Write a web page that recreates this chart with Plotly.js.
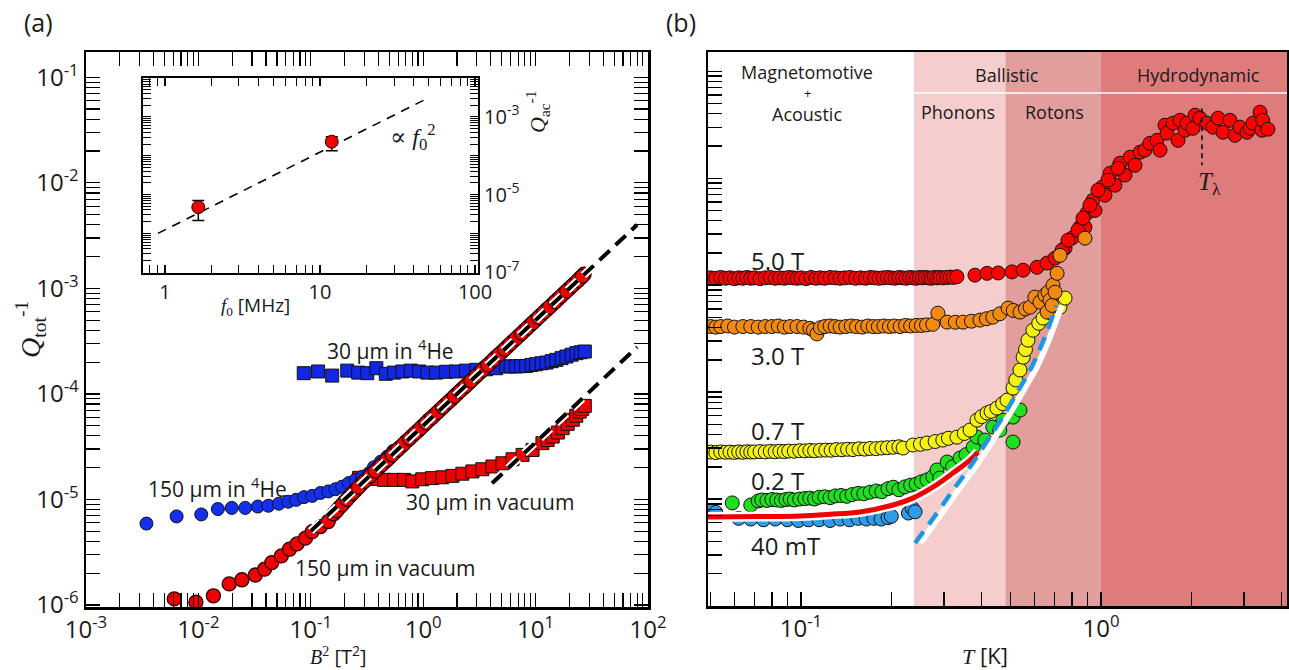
<!DOCTYPE html>
<html><head><meta charset="utf-8">
<script src="https://cdn.plot.ly/plotly-3.0.1.min.js"></script>
<style>html,body{margin:0;padding:0;background:#fff}#chart{width:1289px;height:670px}</style>
</head><body><div id="chart"></div>
<script>
// ===== Panel (a): Q_tot^-1 vs B^2 =====
const he150_B2 = [3.45e-3,6.4e-3,1.06e-2,1.49e-2,1.98e-2,2.61e-2,3.38e-2,4.2e-2,5.2e-2,6.3e-2,7.4e-2,8.7e-2,0.103,0.122,0.143,0.166,0.19,0.218,0.25,0.287,0.33,0.365,0.42,0.48,0.54];
const he150_Q  = [5.9e-6,6.9e-6,7.2e-6,8.1e-6,8.3e-6,8.3e-6,8.55e-6,8.7e-6,9.1e-6,9.5e-6,9.9e-6,1.05e-5,1.08e-5,1.15e-5,1.19e-5,1.25e-5,1.32e-5,1.43e-5,1.53e-5,1.64e-5,1.77e-5,2.02e-5,2.28e-5,2.55e-5,2.88e-5];
const vac150_B2 = [6.1e-3,9.5e-3,1.36e-2,1.88e-2,2.44e-2,3.21e-2,3.88e-2,4.5e-2,5.47e-2,6.46e-2,7.55e-2,8.97e-2,0.103,0.122,0.143,0.16,0.18,0.2,0.22,0.25,0.28,0.32,0.35,0.4,0.45,0.5,0.56,0.63,0.71,0.8,0.9,1.0,1.12,1.26,1.41,1.58,1.78,2.0,2.24,2.51,2.82,3.16,3.55,3.98,4.47,5.01,5.62,6.31,7.08,7.94,8.91,10.0,11.2,12.6,14.1,15.8,17.8,20.0,22.4,25.1,27.0,
  0.17,0.19,0.21,0.235,0.265,0.30,0.335,0.375,0.425,0.475,0.53,0.595,0.67,0.755,0.85,0.95,1.06,1.19,1.33,1.5,1.68,1.89,2.12,2.37,2.66,2.99,3.35,3.76,4.22,4.74,5.31,5.96,6.69,7.5,8.42,9.44,10.6,11.9,13.3,15.0,16.8,18.9,21.2,23.7,26.0];
const vac150_Q  = [1.14e-6,1.06e-6,1.22e-6,1.58e-6,1.73e-6,1.92e-6,2.18e-6,2.52e-6,2.91e-6,3.37e-6,3.78e-6,4.29e-6,4.95e-6,5.52e-6,6.17e-6,7.3e-6,8.4e-6,9.5e-6,1.06e-5,1.22e-5,1.38e-5,1.58e-5,1.74e-5,1.98e-5,2.24e-5,2.49e-5,2.8e-5,3.14e-5,3.56e-5,4.0e-5,4.48e-5,5.0e-5,5.62e-5,6.28e-5,7.06e-5,7.9e-5,8.88e-5,1.0e-4,1.12e-4,1.25e-4,1.41e-4,1.58e-4,1.78e-4,1.99e-4,2.24e-4,2.5e-4,2.81e-4,3.16e-4,3.54e-4,3.97e-4,4.46e-4,5.0e-4,5.6e-4,6.3e-4,7.06e-4,7.9e-4,8.9e-4,1.0e-3,1.12e-3,1.26e-3,1.36e-3,
  7.8e-6,8.9e-6,1.0e-5,1.14e-5,1.3e-5,1.48e-5,1.66e-5,1.86e-5,2.11e-5,2.36e-5,2.64e-5,2.97e-5,3.34e-5,3.77e-5,4.24e-5,4.74e-5,5.3e-5,5.94e-5,6.64e-5,7.49e-5,8.4e-5,9.44e-5,1.06e-4,1.18e-4,1.33e-4,1.49e-4,1.67e-4,1.88e-4,2.11e-4,2.37e-4,2.65e-4,2.98e-4,3.34e-4,3.75e-4,4.2e-4,4.72e-4,5.3e-4,5.95e-4,6.65e-4,7.5e-4,8.4e-4,9.45e-4,1.06e-3,1.18e-3,1.3e-3];
const he30_B2 = [0.0866,0.116,0.155,0.211,0.264,0.318,0.383,0.465,0.551,0.653,0.776,0.92,1.09,1.30,1.60,1.96,2.40,2.96,3.63,4.46,5.47,6.0,6.73,7.4,8.26,9.2,10.1,11.3,12.5,13.9,15.3,17.0,18.8,20.9,23.1,25.2,27.4];
const he30_Q  = [1.57e-4,1.63e-4,1.49e-4,1.66e-4,1.59e-4,1.57e-4,1.75e-4,1.55e-4,1.59e-4,1.63e-4,1.66e-4,1.63e-4,1.59e-4,1.59e-4,1.62e-4,1.63e-4,1.66e-4,1.69e-4,1.71e-4,1.75e-4,1.82e-4,1.82e-4,1.82e-4,1.83e-4,1.84e-4,1.88e-4,1.91e-4,1.95e-4,1.98e-4,2.04e-4,2.10e-4,2.18e-4,2.26e-4,2.35e-4,2.43e-4,2.48e-4,2.52e-4];
const vac30_B2 = [0.269,0.344,0.449,0.551,0.676,0.80,0.98,1.20,1.48,1.82,2.23,2.74,3.36,4.13,5.07,6.23,7.65,9.4,11.5,12.8,14.2,15.8,17.4,19.3,21.4,23.0,24.7,26.0,27.4];
const vac30_Q  = [1.60e-5,1.56e-5,1.53e-5,1.53e-5,1.53e-5,1.48e-5,1.55e-5,1.59e-5,1.62e-5,1.67e-5,1.75e-5,1.84e-5,1.93e-5,2.05e-5,2.20e-5,2.40e-5,2.64e-5,2.94e-5,3.41e-5,3.65e-5,3.94e-5,4.3e-5,4.73e-5,5.2e-5,5.68e-5,6.2e-5,6.79e-5,7.2e-5,7.7e-5];
const fitUpper_B2 = [0.1, 80];
const fitUpper_Q  = [5.0e-6, 4.0e-3];
const fitLower_B2 = [4.1, 80];
const fitLower_Q  = [1.42e-5, 2.78e-4];
const aXTicks = [1e-3,1e-2,1e-1,1,10,100];
const aXText  = ['10<sup>-3</sup>','10<sup>-2</sup>','10<sup>-1</sup>','10<sup>0</sup>','10<sup>1</sup>','10<sup>2</sup>'];
const aYTicks = [1e-6,1e-5,1e-4,1e-3,1e-2,1e-1];
const aYText  = ['10<sup>-6</sup>','10<sup>-5</sup>','10<sup>-4</sup>','10<sup>-3</sup>','10<sup>-2</sup>','10<sup>-1</sup>'];

// ===== Inset: Q_ac^-1 vs f0 =====
const inset_f = [1.64, 11.9];
const inset_Q = [4.72e-6, 2.29e-4];
const inset_errPlus  = [2.3e-6, 7.8e-5];
const inset_errMinus = [2.56e-6, 9.5e-5];
const insetFit_f = [0.9, 51];
const insetFit_Q = [1.0e-6, 3.2e-3];
const inXTicks = [1,10,100];
const inXText  = ['1','10','100'];
const inYTicks = [1e-7,1e-6,1e-5,1e-4,1e-3,1e-2];
const inYText  = ['10<sup>-7</sup>','','10<sup>-5</sup>','','10<sup>-3</sup>',''];

// ===== Panel (b): Q vs T =====
const b50_T = [0.050,0.052,0.054,0.056,0.058,0.060,0.062,0.064,0.066,0.068,0.070,0.073,0.076,0.079,0.082,0.085,0.088,0.091,0.094,0.097,0.100,0.104,0.108,0.112,0.116,0.120,0.125,0.130,0.135,0.140,0.146,0.152,0.158,0.164,0.170,0.176,0.182,0.188,0.194,0.200,0.206,0.212,0.218,0.224,0.230,0.236,0.242,0.248,0.254,0.260,0.266,0.272,0.278,0.284,0.290,0.298,0.306,0.314,0.322,
  0.331,0.380,0.417,0.454,0.505,0.55,0.612,0.661,0.703,0.759,0.80,0.851,0.884,0.898,0.94,0.955,1.008,1.031,1.072,1.113,1.157,1.202,1.25,1.298,1.35,1.40,1.456,1.537,1.573,1.634,1.66,1.738,1.806,1.834,1.905,1.935,2.027,2.058,2.138,2.256,2.362,2.455,2.552,2.69,2.795,2.905,3.068,3.14,3.21,3.39,3.44,3.46,3.60,
  0.741,0.776,0.838,0.871,0.919,0.977,1.055,1.139];
const b50_Q = [1.17e-4,1.16e-4,1.18e-4,1.16e-4,1.17e-4,1.15e-4,1.17e-4,1.16e-4,1.18e-4,1.16e-4,1.17e-4,1.15e-4,1.17e-4,1.18e-4,1.16e-4,1.17e-4,1.16e-4,1.18e-4,1.17e-4,1.16e-4,1.17e-4,1.15e-4,1.18e-4,1.16e-4,1.17e-4,1.16e-4,1.18e-4,1.17e-4,1.16e-4,1.17e-4,1.18e-4,1.16e-4,1.17e-4,1.16e-4,1.18e-4,1.17e-4,1.16e-4,1.17e-4,1.18e-4,1.17e-4,1.16e-4,1.18e-4,1.17e-4,1.16e-4,1.18e-4,1.17e-4,1.16e-4,1.18e-4,1.17e-4,1.18e-4,1.17e-4,1.16e-4,1.18e-4,1.17e-4,1.18e-4,1.17e-4,1.18e-4,1.19e-4,1.18e-4,
  1.20e-4,1.24e-4,1.29e-4,1.30e-4,1.33e-4,1.38e-4,1.47e-4,1.61e-4,1.79e-4,2.22e-4,2.75e-4,3.48e-4,3.48e-4,4.71e-4,6.22e-4,5.0e-4,8.24e-4,6.94e-4,1.11e-3,8.6e-4,1.38e-3,1.07e-3,1.57e-3,1.32e-3,1.75e-3,1.83e-3,2.12e-3,2.26e-3,1.83e-3,3.13e-3,2.64e-3,3.27e-3,2.26e-3,3.48e-3,2.81e-3,3.27e-3,2.93e-3,3.88e-3,3.64e-3,3.27e-3,3.0e-3,3.64e-3,2.69e-3,3.48e-3,2.52e-3,3.0e-3,2.69e-3,2.93e-3,3.27e-3,4.14e-3,2.81e-3,3.48e-3,2.87e-3,
  2.12e-4,2.63e-4,3.27e-4,4.23e-4,5.6e-4,7.72e-4,9.6e-4,1.24e-3];
const b30_T = [0.050,0.052,0.054,0.057,0.060,0.064,0.068,0.072,0.076,0.080,0.084,0.088,0.092,0.097,0.102,0.107,0.110,0.113,0.116,0.120,0.125,0.130,0.135,0.141,0.147,0.153,0.160,0.167,0.174,0.181,0.189,0.197,0.205,0.214,0.223,0.232,0.242,0.252,0.262,0.275,
  0.286,0.307,0.327,0.347,0.37,0.395,0.415,0.436,0.46,0.49,0.51,0.537,0.56,0.58,0.602,0.626,0.65,0.661,0.666,0.676,0.687,0.692,0.703,0.714,0.73,0.884];
const b30_Q = [4.1e-5,4.05e-5,4.1e-5,4.15e-5,4.05e-5,4.1e-5,4.1e-5,4.05e-5,4.1e-5,4.1e-5,4.15e-5,4.05e-5,4.1e-5,4.1e-5,4.05e-5,3.95e-5,3.8e-5,3.5e-5,4.0e-5,4.1e-5,4.15e-5,4.1e-5,4.05e-5,4.1e-5,4.15e-5,4.1e-5,4.05e-5,4.15e-5,4.1e-5,4.1e-5,4.15e-5,4.1e-5,4.15e-5,4.1e-5,4.2e-5,4.15e-5,4.2e-5,4.2e-5,4.25e-5,4.3e-5,
  5.47e-5,4.51e-5,4.5e-5,4.51e-5,4.6e-5,4.71e-5,4.85e-5,5.02e-5,5.4e-5,6.1e-5,5.8e-5,5.6e-5,6.0e-5,6.22e-5,7.73e-5,6.93e-5,8.07e-5,5.6e-5,8.6e-5,7.24e-5,6.46e-5,1.0e-4,8.6e-5,1.29e-4,1.9e-4,2.75e-4];
const b07_T = [0.050,0.052,0.054,0.056,0.058,0.060,0.062,0.064,0.066,0.068,0.070,0.073,0.076,0.079,0.082,0.085,0.088,0.091,0.095,0.099,0.103,0.107,0.111,0.116,0.121,0.126,0.131,0.137,0.143,0.149,0.156,0.163,0.170,0.178,0.186,0.194,0.203,0.212,
  0.219,0.236,0.25,0.263,0.28,0.297,0.31,0.331,0.35,0.366,0.386,0.40,0.417,0.43,0.45,0.47,0.486,0.509,0.52,0.537,0.55,0.56,0.571,0.593,0.62,0.641,0.68,0.73,0.759];
const b07_Q = [2.75e-6,2.72e-6,2.76e-6,2.74e-6,2.75e-6,2.73e-6,2.76e-6,2.74e-6,2.77e-6,2.75e-6,2.76e-6,2.78e-6,2.76e-6,2.79e-6,2.77e-6,2.8e-6,2.78e-6,2.81e-6,2.8e-6,2.83e-6,2.82e-6,2.85e-6,2.83e-6,2.86e-6,2.87e-6,2.86e-6,2.9e-6,2.89e-6,2.92e-6,2.9e-6,2.95e-6,2.93e-6,2.97e-6,2.96e-6,3.0e-6,3.02e-6,3.05e-6,3.08e-6,
  3.0e-6,3.2e-6,3.25e-6,3.34e-6,3.45e-6,3.56e-6,3.7e-6,3.79e-6,4.1e-6,4.42e-6,5.47e-6,5.9e-6,6.37e-6,6.6e-6,7.08e-6,7.8e-6,8.41e-6,1.09e-5,1.3e-5,1.61e-5,2.12e-5,2.5e-5,3.06e-5,3.79e-5,4.4e-5,4.92e-5,5.5e-5,6.22e-5,7.57e-5];
const b02_T = [0.059,0.068,0.072,0.074,0.077,0.080,0.083,0.086,0.089,0.092,0.095,0.099,0.103,0.107,0.111,0.115,0.120,0.125,0.130,0.136,0.142,0.148,0.155,0.162,0.170,0.178,0.186,0.195,0.203,0.212,0.222,0.232,0.242,0.252,0.263,0.275,0.284,0.29,0.307,0.32,0.339,0.355,0.375,0.386,0.41,0.436,0.46,0.471,0.509,0.509,0.537];
const b02_Q = [9.2e-7,8.8e-7,9.6e-7,9.8e-7,9.7e-7,9.9e-7,9.8e-7,9.7e-7,9.9e-7,1.0e-6,9.8e-7,1.0e-6,1.01e-6,1.02e-6,1.0e-6,1.04e-6,1.05e-6,1.03e-6,1.07e-6,1.08e-6,1.06e-6,1.1e-6,1.13e-6,1.12e-6,1.16e-6,1.19e-6,1.17e-6,1.25e-6,1.29e-6,1.22e-6,1.3e-6,1.35e-6,1.38e-6,1.45e-6,1.51e-6,1.62e-6,1.87e-6,1.57e-6,2.22e-6,2.0e-6,2.42e-6,2.6e-6,3.06e-6,3.8e-6,3.56e-6,4.71e-6,4.41e-6,5.47e-6,5.84e-6,3.41e-6,6.79e-6];
const b004_T = [0.050,0.052,0.062,0.068,0.075,0.082,0.090,0.098,0.106,0.115,0.125,0.135,0.145,0.155,0.165,0.175,0.185,0.195,0.200,0.228,0.235,0.240];
const b004_Q = [7.7e-7,7.5e-7,6.6e-7,6.5e-7,6.4e-7,6.5e-7,6.4e-7,6.3e-7,6.4e-7,6.4e-7,6.3e-7,6.5e-7,6.4e-7,6.6e-7,6.5e-7,6.6e-7,6.5e-7,6.7e-7,6.9e-7,7.4e-7,8.2e-7,7.6e-7];
const redFit_T = [0.049,0.073,0.0994,0.125,0.157,0.203,0.236,0.275,0.321,0.366,0.389];
const redFit_Q = [6.79e-7,6.85e-7,6.94e-7,7.2e-7,7.56e-7,8.8e-7,1.02e-6,1.29e-6,1.75e-6,2.31e-6,2.75e-6];
const blueFit_T = [0.24,0.284,0.321,0.366,0.417,0.471,0.537,0.584,0.612,0.651,0.692,0.71];
const blueFit_Q = [3.88e-7,7.4e-7,1.21e-6,2.0e-6,3.47e-6,5.89e-6,1.1e-5,1.66e-5,2.19e-5,3.31e-5,5.25e-5,6.46e-5];
const whiteFit_T = [0.25,0.295,0.334,0.381,0.434,0.49,0.558,0.607,0.636,0.677,0.72,0.738];
const whiteFit_Q = [3.88e-7,7.4e-7,1.21e-6,2.0e-6,3.47e-6,5.89e-6,1.1e-5,1.66e-5,2.19e-5,3.31e-5,5.25e-5,6.46e-5];
const lambda_T = [2.17, 2.17];
const lambda_Q = [4.51e-3, 1.32e-3];
const regionEdges_T = [0.238, 0.48, 1.0];
const bXTicks = [0.1, 1];
const bXText  = ['10<sup>-1</sup>','10<sup>0</sup>'];
const bYTicks = [1e-7,1e-6,1e-5,1e-4,1e-3,1e-2];

// ===== styling =====
const W = 1289, H = 670;
const SANS = "'Open Sans', 'DejaVu Sans', sans-serif";
const SERIF = "'Liberation Serif', 'DejaVu Serif', serif";
const INK = '#1a1a1a';
function minorLog(lo, hi){const v=[];for(let e=lo;e<=hi;e++)for(let d=2;d<=9;d++)v.push(d*Math.pow(10,e));return v;}
function axisBase(extra){
  return Object.assign({type:'log', showgrid:false, zeroline:false, showline:true, linecolor:'#000', linewidth:2.5,
    ticks:'inside', ticklen:14, tickwidth:1.3, tickcolor:'#000', tickmode:'array',
    tickfont:{family:SANS, size:24, color:INK}}, extra);
}
function mk(sym, size, color){return {symbol:sym, size:size, color:color, line:{color:'#111', width:1}};}

const traces = [
  {x:he30_B2, y:he30_Q, xaxis:'x', yaxis:'y', mode:'markers', marker:mk('square',13,'#1226e6')},
  {x:vac30_B2, y:vac30_Q, xaxis:'x', yaxis:'y', mode:'markers', marker:mk('square',13,'#f00000')},
  {x:he150_B2, y:he150_Q, xaxis:'x', yaxis:'y', mode:'markers', marker:mk('circle',13,'#1230ee')},
  {x:vac150_B2, y:vac150_Q, xaxis:'x', yaxis:'y', mode:'markers', marker:{symbol:'circle', size:14, color:'#f00000', line:{color:'#2a0000', width:1.3}}},
  {x:fitUpper_B2, y:fitUpper_Q, xaxis:'x', yaxis:'y', mode:'lines', line:{color:'#fff', width:8, dash:'14px,8px'}},
  {x:fitUpper_B2, y:fitUpper_Q, xaxis:'x', yaxis:'y', mode:'lines', line:{color:'#000', width:4, dash:'14px,8px'}},
  {x:fitLower_B2, y:fitLower_Q, xaxis:'x', yaxis:'y', mode:'lines', line:{color:'#fff', width:8, dash:'14px,8px'}},
  {x:fitLower_B2, y:fitLower_Q, xaxis:'x', yaxis:'y', mode:'lines', line:{color:'#000', width:4, dash:'14px,8px'}},
  {x:insetFit_f, y:insetFit_Q, xaxis:'x2', yaxis:'y2', mode:'lines', line:{color:'#000', width:1.6, dash:'9px,7px'}},
  {x:inset_f, y:inset_Q, xaxis:'x2', yaxis:'y2', mode:'markers', marker:mk('circle',13,'#f00000'),
    error_y:{type:'data', symmetric:false, array:inset_errPlus, arrayminus:inset_errMinus, color:'#000', thickness:1.5, width:6}},
  {x:b004_T, y:b004_Q, xaxis:'x3', yaxis:'y3', mode:'markers', marker:mk('circle',14,'#2e9de8')},
  {x:b02_T, y:b02_Q, xaxis:'x3', yaxis:'y3', mode:'markers', marker:mk('circle',14,'#1ee01e')},
  {x:b07_T, y:b07_Q, xaxis:'x3', yaxis:'y3', mode:'markers', marker:mk('circle',14,'#f5f212')},
  {x:b50_T, y:b50_Q, xaxis:'x3', yaxis:'y3', mode:'markers', marker:mk('circle',14,'#ff0000')},
  {x:b30_T, y:b30_Q, xaxis:'x3', yaxis:'y3', mode:'markers', marker:mk('circle',14,'#f28a10')},
  {x:redFit_T, y:redFit_Q, xaxis:'x3', yaxis:'y3', mode:'lines', line:{color:'#fff', width:10, shape:'spline'}},
  {x:redFit_T, y:redFit_Q, xaxis:'x3', yaxis:'y3', mode:'lines', line:{color:'#f00000', width:5, shape:'spline'}},
  {x:whiteFit_T, y:whiteFit_Q, xaxis:'x3', yaxis:'y3', mode:'lines', line:{color:'#fff', width:6, shape:'spline'}},
  {x:blueFit_T, y:blueFit_Q, xaxis:'x3', yaxis:'y3', mode:'lines', line:{color:'#1e96e6', width:4.5, dash:'14px,9px', shape:'spline'}},
  {x:lambda_T, y:lambda_Q, xaxis:'x3', yaxis:'y3', mode:'lines', line:{color:'#111', width:1.6, dash:'5px,4px'}}
];
traces.forEach(t=>{t.showlegend=false; t.hoverinfo='skip';});

function txt(s, px, py, size, extra){
  return Object.assign({text:s, xref:'paper', yref:'paper', x:px/W, y:1-py/H, xanchor:'center', yanchor:'middle',
    showarrow:false, font:{family:SANS, size:size, color:INK}}, extra||{});
}
const serif = (s)=>'<span style="font-family:Liberation Serif">'+s+'</span>';

const annotations = [
  txt('(a)', 38, 22, 25),
  txt('(b)', 681, 22, 25),
  txt('30 μm in <sup>4</sup>He', 390, 350, 21),
  txt('150 μm in <sup>4</sup>He', 217, 487, 21),
  txt('30 μm in vacuum', 490, 502, 21),
  txt('150 μm in vacuum', 385, 568, 21),
  txt('<i>Q</i><sub>tot</sub><sup>-1</sup>', 30, 330, 28, {textangle:-90, font:{family:SERIF, size:28, color:INK}}),
  txt(serif('<i>B</i><sup>2</sup>')+' [T<sup>2</sup>]', 338, 655, 20),
  txt(serif('<i>f</i><sub>0</sub>')+' [MHz]', 255, 306, 19),
  txt('<i>Q</i><sub>ac</sub><sup>-1</sup>', 538, 112, 22, {textangle:-90, font:{family:SERIF, size:22, color:INK}}),
  txt('∝ <i>f</i><sub>0</sub><sup>2</sup>', 413, 137, 24, {font:{family:SERIF, size:24, color:INK}}),
  txt('Magnetomotive', 807, 72, 18),
  txt('+', 807, 93, 13),
  txt('Acoustic', 807, 114, 18),
  txt('Ballistic', 1007, 75, 18),
  txt('Hydrodynamic', 1198, 75, 18),
  txt('Phonons', 958, 112, 18),
  txt('Rotons', 1054, 112, 18),
  txt('5.0 T', 778, 260, 24),
  txt('3.0 T', 778, 355, 24),
  txt('0.7 T', 778, 430, 24),
  txt('0.2 T', 778, 480, 24),
  txt('40 mT', 785, 545, 24),
  txt('<i>T</i><sub>λ</sub>', 1209, 183, 25, {font:{family:SERIF, size:25, color:INK}}),
  txt(serif('<i>T</i>')+' [K]', 985, 655, 22)
];

const shapes = [
  {type:'rect', xref:'x3', yref:'y3 domain', x0:regionEdges_T[0], x1:regionEdges_T[1], y0:0, y1:1, fillcolor:'#f5cdcc', line:{width:0}, layer:'below'},
  {type:'rect', xref:'x3', yref:'y3 domain', x0:regionEdges_T[1], x1:regionEdges_T[2], y0:0, y1:1, fillcolor:'#e19e9c', line:{width:0}, layer:'below'},
  {type:'rect', xref:'x3', yref:'y3 domain', x0:regionEdges_T[2], x1:5, y0:0, y1:1, fillcolor:'#e07b7b', line:{width:0}, layer:'below'},
  {type:'line', xref:'x3', yref:'y3 domain', x0:regionEdges_T[0], x1:5, y0:0.926, y1:0.926, line:{color:'#fff', width:1.5}, layer:'below'}
];

const layout = {
  width:W, height:H, margin:{l:0,r:0,t:0,b:0}, paper_bgcolor:'#fff', plot_bgcolor:'rgba(0,0,0,0)',
  showlegend:false, hovermode:false, font:{family:SANS, color:INK},
  xaxis: axisBase({domain:[86/W, 648/W], range:[-3, 2], anchor:'y', tickvals:aXTicks, ticktext:aXText, mirror:'allticks',
    minor:{tickmode:'array', tickvals:minorLog(-3,1), ticks:'inside', ticklen:14, tickwidth:1.2, tickcolor:'#000', showgrid:false}}),
  yaxis: axisBase({domain:[1-607/H, 1-52/H], range:[-6.02, -0.76], anchor:'x', tickvals:aYTicks, ticktext:aYText, mirror:'allticks',
    minor:{tickmode:'array', tickvals:minorLog(-6,-1), ticks:'inside', ticklen:14, tickwidth:1.2, tickcolor:'#000', showgrid:false}}),
  xaxis2: axisBase({domain:[143/W, 478/W], range:[-0.142, 2.019], anchor:'y2', tickvals:inXTicks, ticktext:inXText, mirror:'allticks', linewidth:2,
    ticklen:8, tickfont:{family:SANS, size:20, color:INK},
    minor:{tickmode:'array', tickvals:minorLog(-1,1), ticks:'inside', ticklen:8, tickwidth:1, tickcolor:'#000', showgrid:false}}),
  yaxis2: axisBase({domain:[1-273/H, 1-78/H], range:[-7.02, -2.0], anchor:'x2', side:'right', tickvals:inYTicks, ticktext:inYText, mirror:'allticks', linewidth:2,
    ticklen:8, tickfont:{family:SANS, size:20, color:INK},
    minor:{tickmode:'array', tickvals:minorLog(-7,-3), ticks:'inside', ticklen:8, tickwidth:1, tickcolor:'#000', showgrid:false}}),
  xaxis3: axisBase({domain:[708/W, 1287/W], range:[-1.31, 0.62], anchor:'y3', tickvals:bXTicks, ticktext:bXText, mirror:true,
    minor:{tickmode:'array', tickvals:minorLog(-2,0), ticks:'inside', ticklen:14, tickwidth:1.3, tickcolor:'#000', showgrid:false}}),
  yaxis3: axisBase({domain:[1-606/H, 1-52/H], range:[-7, -1.82], anchor:'x3', tickvals:bYTicks, showticklabels:false, mirror:true,
    minor:{tickmode:'array', tickvals:minorLog(-7,-2), ticks:'inside', ticklen:14, tickwidth:1.3, tickcolor:'#000', showgrid:false}}),
  shapes: shapes,
  annotations: annotations
};

Plotly.newPlot('chart', traces, layout, {staticPlot:true, displayModeBar:false});
</script>
</body></html>
